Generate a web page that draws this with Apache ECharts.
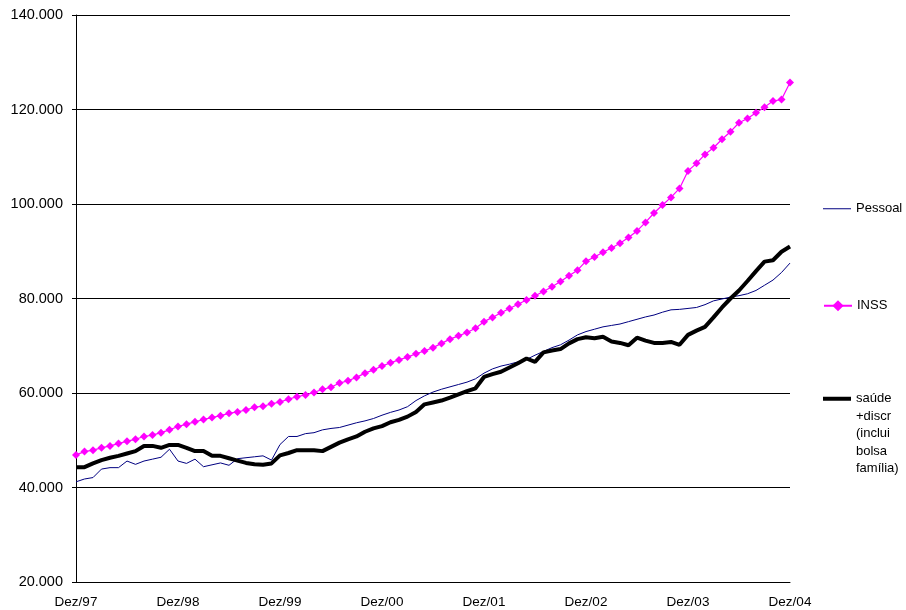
<!DOCTYPE html>
<html>
<head>
<meta charset="utf-8">
<script src="https://cdn.jsdelivr.net/npm/echarts@6/dist/echarts.min.js"></script>
<style>
  html, body { margin: 0; padding: 0; background: #fff; }
  #chart { width: 906px; height: 610px; }
</style>
</head>
<body>
<div id="chart"></div>
<script>
// monthly values, Dez/97 .. Dez/04 (thousands)
var monthNames = ['Dez','Jan','Fev','Mar','Abr','Mai','Jun','Jul','Ago','Set','Out','Nov'];
var startYear = 97;

var pessoal = [
  41.2,41.8,42.1,43.9,44.2,44.2,45.6,44.9,45.6,46.0,46.4,48.1,
  45.6,45.1,46.0,44.4,44.8,45.2,44.7,46.1,46.3,46.5,46.7,45.8,
  49.1,50.8,50.8,51.4,51.6,52.2,52.5,52.7,53.2,53.7,54.1,54.6,
  55.3,55.9,56.4,57.1,58.4,59.4,60.2,60.8,61.3,61.8,62.3,63.0,
  64.2,65.1,65.7,66.1,66.6,67.1,68.0,68.8,69.6,70.2,71.2,72.3,
  73.0,73.5,74.0,74.3,74.6,75.1,75.6,76.1,76.5,77.1,77.6,77.7,
  77.9,78.1,78.7,79.5,79.9,80.3,80.6,81.0,81.7,82.8,83.9,85.5,
  87.5
];

var inss = [
  46.9,47.6,47.9,48.4,48.8,49.3,49.8,50.2,50.8,51.1,51.6,52.2,
  52.9,53.4,53.9,54.4,54.8,55.2,55.7,56.0,56.4,57.0,57.2,57.7,
  58.1,58.7,59.2,59.6,60.1,60.8,61.2,62.1,62.6,63.3,64.2,64.9,
  65.7,66.4,67.0,67.6,68.3,68.9,69.6,70.5,71.4,72.1,72.8,73.7,
  75.1,76.0,77.0,77.9,78.8,79.7,80.6,81.5,82.5,83.6,84.8,86.0,
  87.9,88.8,89.8,90.7,91.7,92.9,94.3,96.1,98.1,99.8,101.4,103.3,
  107.0,108.6,110.5,111.9,113.7,115.3,117.2,118.1,119.3,120.5,121.8,122.1,
  125.7
];

var saude = [
  44.3,44.3,45.1,45.8,46.3,46.7,47.2,47.7,48.8,48.8,48.4,49.0,
  49.0,48.4,47.7,47.7,46.7,46.7,46.2,45.7,45.2,44.9,44.8,45.1,
  46.8,47.3,47.9,47.9,47.9,47.7,48.6,49.5,50.2,50.8,51.8,52.5,
  53.0,53.8,54.3,55.0,56.0,57.6,58.0,58.4,59.0,59.7,60.4,61.0,
  63.4,64.0,64.5,65.4,66.3,67.3,66.6,68.6,69.0,69.3,70.5,71.4,
  71.8,71.6,71.9,70.9,70.6,70.1,71.7,71.1,70.6,70.6,70.8,70.2,
  72.3,73.2,74.0,76.0,78.1,80.0,81.7,83.7,85.8,87.8,88.1,89.9,
  91.0
];

var seriesNames = ['Pessoal', 'INSS', 'saúde\n+discr\n(inclui\nbolsa\nfamília)'];

var categories = [];
for (var i = 0; i < pessoal.length; i++) {
  var yy = (startYear + Math.floor((i + 11) / 12)) % 100;
  categories.push(monthNames[i % 12] + '/' + (yy < 10 ? '0' + yy : yy));
}

var font = 'Liberation Sans, Arial, sans-serif';

var legendBase = {
  orient: 'vertical',
  left: 823,
  padding: 0,
  itemWidth: 28,
  itemHeight: 14,
  selectedMode: false,
  textStyle: { fontSize: 13, fontFamily: font, color: '#000', lineHeight: 17.5 }
};

var chart = echarts.init(document.getElementById('chart'));
chart.setOption({
  animation: false,
  backgroundColor: '#fff',
  grid: { left: 76, right: 116, top: 15, bottom: 28, outerBoundsMode: 'none' },
  legend: [
    Object.assign({}, legendBase, {
      top: 200,
      data: [{ name: seriesNames[0], icon: 'path://M0,0L28,0L28,1L0,1Z' }]
    }),
    Object.assign({}, legendBase, { top: 297, data: [seriesNames[1]] }),
    Object.assign({}, legendBase, {
      top: 320,
      data: [{ name: seriesNames[2], icon: 'path://M0,0L28,0L28,4L0,4Z' }],
      // first text line sits level with the icon
      formatter: function (name) { return '\n\n\n\n' + name; }
    })
  ],
  xAxis: {
    type: 'category',
    data: categories,
    boundaryGap: false,
    axisLine: { lineStyle: { color: '#000', width: 1 } },
    axisTick: { show: false },
    axisLabel: { interval: 11, color: '#000', fontSize: 13.5, fontFamily: font, margin: 13 },
    splitLine: { show: false }
  },
  yAxis: {
    type: 'value',
    min: 20,
    max: 140,
    interval: 20,
    axisLine: { show: true, lineStyle: { color: '#000', width: 1 } },
    axisTick: { show: true, length: 4, lineStyle: { color: '#000' } },
    axisLabel: {
      color: '#000', fontSize: 14.5, fontFamily: font, margin: 13,
      formatter: function (v) { return v + '.000'; }
    },
    splitLine: { show: true, lineStyle: { color: '#000', width: 1 } }
  },
  series: [
    {
      name: seriesNames[0],
      type: 'line',
      data: pessoal,
      symbol: 'none',
      lineStyle: { color: '#000080', width: 1 },
      itemStyle: { color: '#000080' }
    },
    {
      name: seriesNames[1],
      type: 'line',
      data: inss,
      symbol: 'diamond',
      symbolSize: 8,
      showAllSymbol: true,
      lineStyle: { color: '#ff00ff', width: 1.2 },
      itemStyle: { color: '#ff00ff' }
    },
    {
      name: seriesNames[2],
      type: 'line',
      data: saude,
      symbol: 'none',
      lineStyle: { color: '#000', width: 4 },
      itemStyle: { color: '#000' }
    }
  ]
});
</script>
</body>
</html>
